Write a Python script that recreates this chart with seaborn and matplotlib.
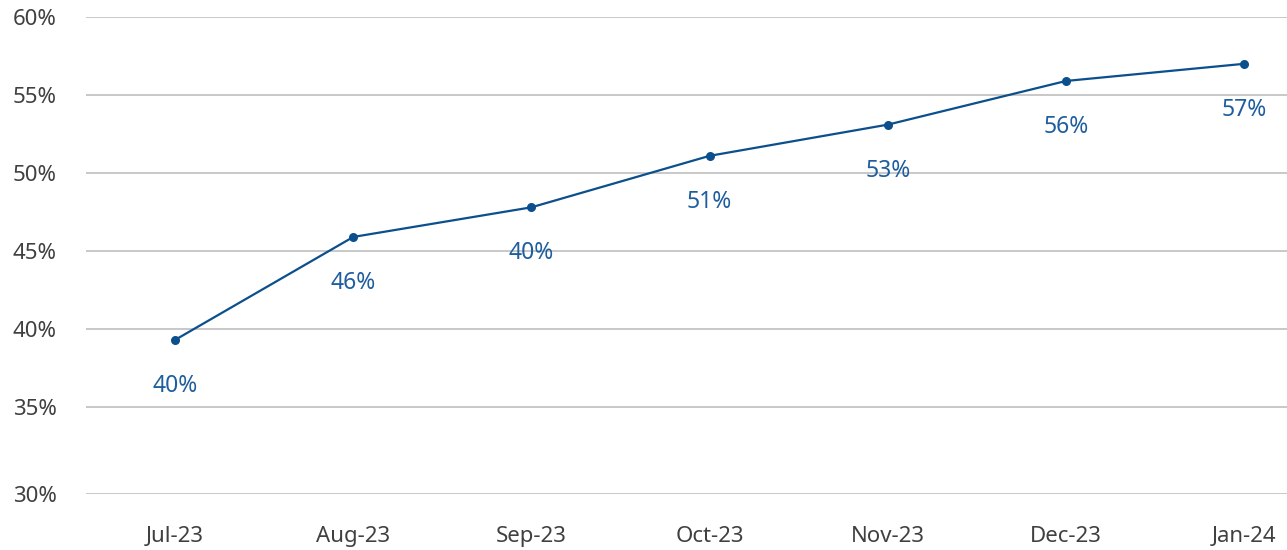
import matplotlib
matplotlib.use("Agg")
import matplotlib.pyplot as plt
import seaborn as sns
import pandas as pd

# Monthly share, in percent
months = ["Jul-23", "Aug-23", "Sep-23", "Oct-23", "Nov-23", "Dec-23", "Jan-24"]
share = [39.3, 45.9, 47.8, 51.1, 53.1, 55.9, 57.0]
point_labels = ["40%", "46%", "40%", "51%", "53%", "56%", "57%"]
y_ticks = [29.42, 35, 40, 45, 50, 55, 60]
y_tick_labels = ["30%", "35%", "40%", "45%", "50%", "55%", "60%"]

sns.set_theme(style="white")
plt.rcParams["font.family"] = ["Noto Sans", "DejaVu Sans"]

line_color = "#0b4f8c"
label_color = "#1f5e9e"
text_color = "#404040"
grid_color = "#bfbfbf"

df = pd.DataFrame({"month": months, "share": share, "pos": range(len(months))})

fig = plt.figure(figsize=(12.87, 5.5), dpi=100)
ax = fig.add_axes([86 / 1287, 1 - 494 / 550, 1 - 86 / 1287, (494 - 17) / 550])

for y in y_ticks:
    ax.axhline(y, color=grid_color, linewidth=1.2, zorder=0)

sns.lineplot(data=df, x="pos", y="share", ax=ax, color=line_color,
             linewidth=1.6, marker="o", markersize=6.5,
             markeredgewidth=0, zorder=3)

for xi, yi, lab in zip(df["pos"], df["share"], point_labels):
    ax.annotate(lab, (xi, yi), xytext=(0, -46), textcoords="offset pixels",
                ha="center", va="center", fontsize=16.5, color=label_color,
                fontweight="medium")

ax.set_xlim(-0.5, 6.24)
ax.set_ylim(29.42, 60)
ax.set_xticks(range(len(months)))
ax.set_xticklabels(months)
ax.set_yticks(y_ticks)
ax.set_yticklabels(y_tick_labels)
ax.tick_params(axis="x", length=0, pad=23, labelsize=16, labelcolor=text_color)
ax.tick_params(axis="y", length=0, pad=21, labelsize=16, labelcolor=text_color)
ax.set_xlabel("")
ax.set_ylabel("")
for s in ax.spines.values():
    s.set_visible(False)

fig.savefig("out.png", dpi=100)
